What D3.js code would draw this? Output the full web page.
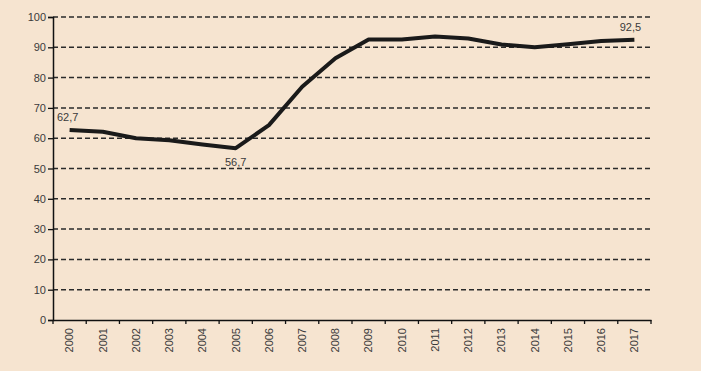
<!DOCTYPE html>
<html>
<head>
<meta charset="utf-8">
<script src="https://cdn.jsdelivr.net/npm/d3@7"></script>
<style>
  body { margin: 0; background: #f6e4d0; }
  svg { display: block; }
  text { font-family: "Liberation Sans", Arial, sans-serif; }
</style>
</head>
<body>
<script>
var years = ["2000", "2001", "2002", "2003", "2004", "2005", "2006", "2007", "2008",
  "2009", "2010", "2011", "2012", "2013", "2014", "2015", "2016", "2017"];
var values = [62.7, 62.1, 60.0, 59.3, 57.9, 56.7, 64.3, 77.0, 86.4,
  92.6, 92.6, 93.6, 92.9, 90.9, 90.0, 91.0, 92.1, 92.5];
var yTicks = [0, 10, 20, 30, 40, 50, 60, 70, 80, 90, 100];
// value labels shown on the chart: index, text, position
var labels = [
  { i: 0, text: "62,7", dx: -2, dy: -9 },
  { i: 5, text: "56,7", dx: 0, dy: 18 },
  { i: 17, text: "92,5", dx: -4, dy: -9 }
];

var width = 701, height = 371;
var margin = { left: 53, right: 50, top: 17, bottom: 51 };

var svg = d3.select("body").append("svg")
  .attr("width", width)
  .attr("height", height);

svg.append("rect")
  .attr("width", width)
  .attr("height", height)
  .attr("fill", "#f6e4d0");

var xScale = d3.scaleBand()
  .domain(years)
  .range([margin.left, width - margin.right]);

var yScale = d3.scaleLinear()
  .domain([0, 100])
  .range([height - margin.bottom, margin.top]);

// dashed grid lines
svg.append("g")
  .selectAll("line")
  .data(yTicks.filter(function (d) { return d > 0; }))
  .enter()
  .append("line")
  .attr("x1", margin.left)
  .attr("x2", width - margin.right)
  .attr("y1", function (d) { return yScale(d); })
  .attr("y2", function (d) { return yScale(d); })
  .attr("stroke", "#2a2a2a")
  .attr("stroke-width", 1.5)
  .attr("stroke-dasharray", "5,3");

// y axis
var yAxis = d3.axisLeft(yScale)
  .tickValues(yTicks)
  .tickSize(5)
  .tickPadding(2);
var gy = svg.append("g")
  .attr("transform", "translate(" + margin.left + ",0)")
  .call(yAxis);
gy.select(".domain").attr("stroke", "#111").attr("stroke-width", 1.5);
gy.selectAll(".tick line").attr("stroke", "#111").attr("stroke-width", 1.3);
gy.selectAll(".tick text")
  .attr("fill", "#3a3a3a")
  .style("font-size", "11px");

// x axis, ticks at band boundaries
var xAxis = d3.axisBottom(xScale).tickSize(0).tickPadding(0);
var gx = svg.append("g")
  .attr("transform", "translate(0," + yScale(0) + ")")
  .call(xAxis);
gx.select(".domain").attr("stroke", "#111").attr("stroke-width", 1.5);
gx.selectAll(".tick text")
  .attr("fill", "#3a3a3a")
  .style("font-size", "11px")
  .style("text-anchor", "end")
  .attr("transform", "translate(0,8) rotate(-90)")
  .attr("x", 0)
  .attr("y", 0)
  .attr("dx", 0)
  .attr("dy", "0.35em");

var bounds = years.map(function (d) { return xScale(d); })
  .concat([xScale(years[years.length - 1]) + xScale.bandwidth()]);
gx.append("g")
  .selectAll("line")
  .data(bounds)
  .enter()
  .append("line")
  .attr("x1", function (d) { return d; })
  .attr("x2", function (d) { return d; })
  .attr("y1", 0)
  .attr("y2", 4)
  .attr("stroke", "#111")
  .attr("stroke-width", 1.3);

// data line
var line = d3.line()
  .x(function (d, i) { return xScale(years[i]) + xScale.bandwidth() / 2; })
  .y(function (d) { return yScale(d); });

svg.append("path")
  .datum(values)
  .attr("d", line)
  .attr("fill", "none")
  .attr("stroke", "#1a1a1a")
  .attr("stroke-width", 4)
  .attr("stroke-linejoin", "round");

// value labels
svg.append("g")
  .selectAll("text")
  .data(labels)
  .enter()
  .append("text")
  .attr("x", function (d) { return xScale(years[d.i]) + xScale.bandwidth() / 2 + d.dx; })
  .attr("y", function (d) { return yScale(values[d.i]) + d.dy; })
  .attr("text-anchor", "middle")
  .attr("fill", "#3a3a3a")
  .style("font-size", "11px")
  .text(function (d) { return d.text; });
</script>
</body>
</html>
